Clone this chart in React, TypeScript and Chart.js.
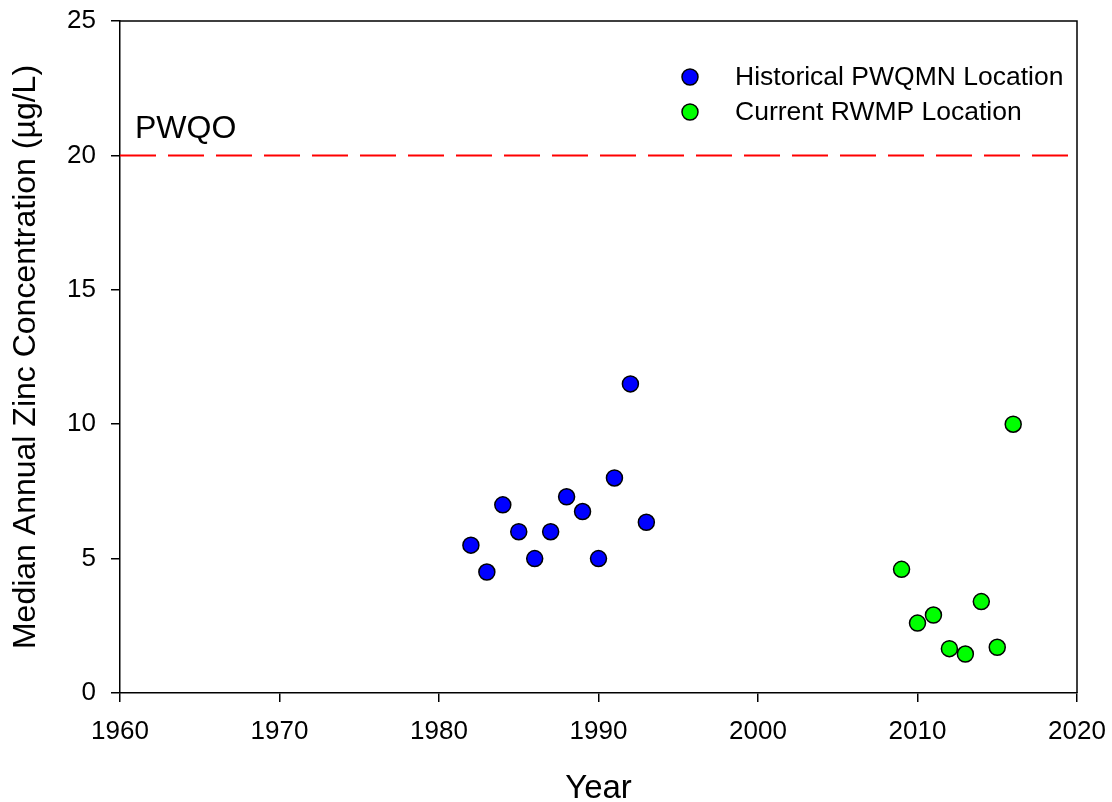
import { useEffect, useRef } from "react";
import { Chart, registerables } from "chart.js";

Chart.register(...registerables);

// Median annual zinc concentrations (µg/L)
const historicalYears = [1982, 1983, 1984, 1985, 1986, 1987, 1988, 1989, 1990, 1991, 1992, 1993];
const historicalZinc = [5.5, 4.5, 7.0, 6.0, 5.0, 6.0, 7.3, 6.75, 5.0, 8.0, 11.5, 6.35];
const currentYears = [2009, 2010, 2011, 2012, 2013, 2014, 2015, 2016];
const currentZinc = [4.6, 2.6, 2.9, 1.65, 1.45, 3.4, 1.7, 10.0];

// Provincial Water Quality Objective
const pwqoLabel = "PWQO";
const pwqoValue = 20;

// Axis ranges
const yearRange = [1960, 2020];
const yearStep = 10;
const zincRange = [0, 25];
const zincStep = 5;

const seriesLabels = ["Historical PWQMN Location", "Current RWMP Location"];
const FONT = "'Liberation Sans', Arial, Helvetica, sans-serif";

// fixed axis sizes; label overflow padding is dropped so the plot box stays put
const fixAxis = (size: { width?: number; height?: number }) => (s: any) => {
  if (size.width !== undefined) s.width = size.width;
  if (size.height !== undefined) s.height = size.height;
  s.paddingTop = 0;
  s.paddingBottom = 0;
  s.paddingLeft = 0;
  s.paddingRight = 0;
};

const frameAndLabels = {
  id: "frameAndLabels",
  afterDraw(chart: any) {
    const { ctx, chartArea, scales } = chart;
    ctx.save();
    // box around the plotting area
    ctx.strokeStyle = "#000";
    ctx.lineWidth = 1.5;
    ctx.beginPath();
    ctx.moveTo(chartArea.left, chartArea.top);
    ctx.lineTo(chartArea.right, chartArea.top);
    ctx.lineTo(chartArea.right, chartArea.bottom);
    ctx.stroke();

    // objective label above the dashed line
    const yLine = scales.y.getPixelForValue(pwqoValue);
    ctx.fillStyle = "#000";
    ctx.font = `32px ${FONT}`;
    ctx.textBaseline = "alphabetic";
    ctx.textAlign = "left";
    ctx.fillText(pwqoLabel, chartArea.left + 15, yLine - 17.5);

    // legend
    const legendX = chartArea.right - 387;
    const legendY = chartArea.top + 56;
    ctx.font = `26.5px ${FONT}`;
    ctx.textBaseline = "middle";
    chart.data.datasets
      .filter((d: any) => seriesLabels.includes(d.label))
      .forEach((d: any, i: number) => {
        const cy = legendY + i * 35;
        ctx.beginPath();
        ctx.arc(legendX, cy, 8, 0, Math.PI * 2);
        ctx.fillStyle = d.backgroundColor;
        ctx.fill();
        ctx.lineWidth = 1.5;
        ctx.strokeStyle = d.borderColor;
        ctx.stroke();
        ctx.fillStyle = "#000";
        ctx.fillText(d.label, legendX + 45, cy + 1);
      });
    ctx.restore();
  },
};

export default function App() {
  const canvasRef = useRef<HTMLCanvasElement | null>(null);

  useEffect(() => {
    if (!canvasRef.current) return;
    const pointStyle = {
      pointRadius: 8,
      pointHoverRadius: 8,
      pointBorderWidth: 1.5,
      borderColor: "#000000",
      showLine: false,
    };
    const chart = new Chart(canvasRef.current, {
      type: "scatter",
      data: {
        datasets: [
          {
            label: seriesLabels[0],
            data: historicalYears.map((x, i) => ({ x, y: historicalZinc[i] })),
            backgroundColor: "#0000ff",
            ...pointStyle,
          },
          {
            label: seriesLabels[1],
            data: currentYears.map((x, i) => ({ x, y: currentZinc[i] })),
            backgroundColor: "#00ff00",
            ...pointStyle,
          },
          {
            label: pwqoLabel,
            data: yearRange.map((x) => ({ x, y: pwqoValue })),
            showLine: true,
            borderColor: "#ff0000",
            backgroundColor: "#ff0000",
            borderWidth: 2,
            borderDash: [36, 12],
            pointRadius: 0,
            pointHoverRadius: 0,
            order: 5,
          },
        ],
      },
      options: {
        responsive: false,
        animation: false,
        events: [],
        layout: { padding: { top: 21, right: 35, left: 0, bottom: 0 } },
        plugins: {
          legend: { display: false },
          tooltip: { enabled: false },
        },
        scales: {
          x: {
            type: "linear",
            min: yearRange[0],
            max: yearRange[1],
            afterFit: fixAxis({ height: 109 }),
            ticks: {
              stepSize: yearStep,
              color: "#000",
              padding: 14,
              font: { family: FONT, size: 26 },
              callback: (v: any) => String(v),
            },
            grid: {
              drawOnChartArea: false,
              drawTicks: true,
              tickLength: 9,
              color: "#000",
              lineWidth: 1.5,
            },
            border: { display: true, color: "#000", width: 1.5 },
            title: {
              display: true,
              text: "Year",
              color: "#000",
              font: { family: FONT, size: 33, lineHeight: 0.8 },
              padding: { top: 0, bottom: 0 },
            },
          },
          y: {
            type: "linear",
            min: zincRange[0],
            max: zincRange[1],
            afterFit: fixAxis({ width: 120 }),
            ticks: {
              stepSize: zincStep,
              color: "#000",
              padding: 15,
              font: { family: FONT, size: 26 },
            },
            grid: {
              drawOnChartArea: false,
              drawTicks: true,
              tickLength: 9,
              color: "#000",
              lineWidth: 1.5,
            },
            border: { display: true, color: "#000", width: 1.5 },
            title: {
              display: true,
              text: "Median Annual Zinc Concentration (µg/L)",
              color: "#000",
              font: { family: FONT, size: 32, lineHeight: 1 },
              padding: { top: 10, bottom: 0 },
            },
          },
        },
      },
      plugins: [frameAndLabels],
    });
    return () => chart.destroy();
  }, []);

  return (
    <div style={{ position: "fixed", left: 0, top: 0, width: 1112, height: 802, background: "#fff" }}>
      <canvas ref={canvasRef} width={1112} height={802} />
    </div>
  );
}
